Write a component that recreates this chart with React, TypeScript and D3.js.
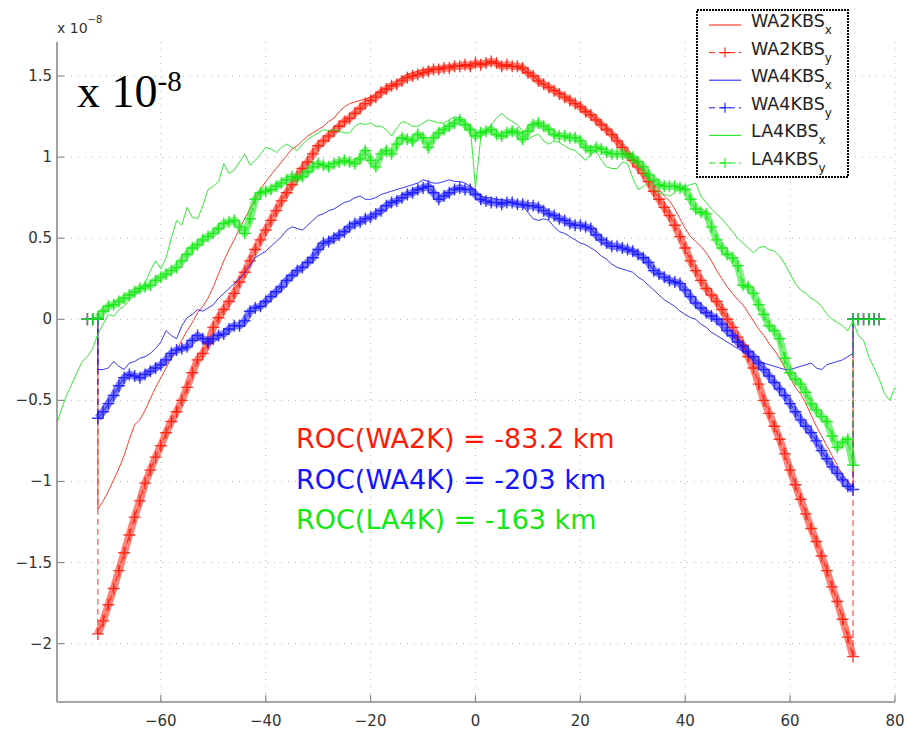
import React from "react";
import * as d3 from "d3";

// ---------- data (values in units of 1e-8) ----------
const MAIN_START = -72; // first x of the main samples (step 1)
const PAD_LEFT = [-74, -73, -72];
const PAD_RIGHT = [72, 73, 74, 75, 76, 77];
const LA4_X_START = -80;

const WA2KBS_X = [
  -1.17, -1.12, -1.06, -0.99, -0.92, -0.84, -0.74, -0.65, -0.62, -0.56,
  -0.49, -0.42, -0.36, -0.30, -0.24, -0.19, -0.13, -0.07, -0.02, 0.04,
  0.08, 0.13, 0.20, 0.28, 0.36, 0.43, 0.49, 0.56, 0.62, 0.68,
  0.74, 0.80, 0.85, 0.89, 0.93, 0.97, 1.01, 1.05, 1.07, 1.10,
  1.13, 1.15, 1.17, 1.19, 1.22, 1.24, 1.28, 1.31, 1.33, 1.34,
  1.35, 1.36, 1.37, 1.39, 1.41, 1.42, 1.44, 1.47, 1.49, 1.51,
  1.52, 1.53, 1.54, 1.54, 1.55, 1.55, 1.56, 1.56, 1.57, 1.56,
  1.57, 1.57, 1.58, 1.58, 1.57, 1.58, 1.58, 1.57, 1.56, 1.56,
  1.55, 1.54, 1.52, 1.50, 1.47, 1.45, 1.43, 1.41, 1.40, 1.38,
  1.35, 1.33, 1.31, 1.29, 1.26, 1.23, 1.21, 1.18, 1.15, 1.11,
  1.07, 1.03, 0.99, 0.95, 0.91, 0.87, 0.83, 0.80, 0.76, 0.73,
  0.68, 0.62, 0.56, 0.51, 0.48, 0.45, 0.41, 0.36, 0.30, 0.25,
  0.20, 0.16, 0.12, 0.09, 0.04, -0.01, -0.06, -0.10, -0.15, -0.19,
  -0.24, -0.30, -0.36, -0.42, -0.46, -0.52, -0.59, -0.66, -0.72, -0.78,
  -0.84, -0.90, -0.96, -1.00, -1.03,
];

const WA2KBS_Y = [
  -1.94, -1.86, -1.76, -1.66, -1.55, -1.44, -1.33, -1.22, -1.12, -1.01,
  -0.93, -0.85, -0.78, -0.70, -0.63, -0.57, -0.50, -0.42, -0.33, -0.25,
  -0.21, -0.15, -0.05, 0.01, 0.06, 0.11, 0.16, 0.23, 0.29, 0.36,
  0.43, 0.49, 0.55, 0.61, 0.67, 0.73, 0.78, 0.83, 0.88, 0.93,
  0.97, 1.02, 1.07, 1.10, 1.13, 1.16, 1.19, 1.22, 1.24, 1.27,
  1.30, 1.33, 1.35, 1.37, 1.40, 1.42, 1.44, 1.45, 1.47, 1.49,
  1.50, 1.51, 1.52, 1.53, 1.54, 1.54, 1.55, 1.55, 1.56, 1.56,
  1.57, 1.56, 1.58, 1.57, 1.58, 1.59, 1.58, 1.56, 1.57, 1.56,
  1.56, 1.55, 1.52, 1.50, 1.47, 1.45, 1.43, 1.41, 1.39, 1.37,
  1.35, 1.33, 1.31, 1.28, 1.26, 1.23, 1.20, 1.17, 1.14, 1.10,
  1.06, 1.02, 0.98, 0.94, 0.90, 0.85, 0.79, 0.74, 0.69, 0.64,
  0.58, 0.51, 0.44, 0.36, 0.30, 0.24, 0.19, 0.15, 0.11, 0.06,
  0.00, -0.05, -0.11, -0.16, -0.23, -0.30, -0.40, -0.50, -0.58, -0.66,
  -0.74, -0.83, -0.93, -1.02, -1.11, -1.20, -1.29, -1.37, -1.46, -1.55,
  -1.65, -1.74, -1.85, -1.96, -2.08,
];

const WA4KBS_X = [
  -0.31, -0.31, -0.30, -0.26, -0.29, -0.31, -0.27, -0.26, -0.24, -0.23,
  -0.21, -0.18, -0.14, -0.07, -0.10, -0.12, -0.04, 0.01, 0.03, 0.06,
  0.05, 0.07, 0.09, 0.13, 0.16, 0.19, 0.22, 0.25, 0.29, 0.33,
  0.38, 0.40, 0.42, 0.45, 0.48, 0.51, 0.55, 0.57, 0.56, 0.55,
  0.58, 0.61, 0.64, 0.65, 0.67, 0.68, 0.70, 0.72, 0.73, 0.75,
  0.76, 0.74, 0.74, 0.75, 0.77, 0.78, 0.79, 0.80, 0.81, 0.82,
  0.83, 0.84, 0.86, 0.85, 0.84, 0.84, 0.85, 0.86, 0.85, 0.85,
  0.84, 0.82, 0.78, 0.76, 0.75, 0.75, 0.74, 0.74, 0.73, 0.72,
  0.71, 0.70, 0.66, 0.62, 0.61, 0.62, 0.61, 0.57, 0.54, 0.53,
  0.51, 0.49, 0.47, 0.46, 0.44, 0.42, 0.39, 0.37, 0.34, 0.32,
  0.31, 0.30, 0.29, 0.26, 0.24, 0.21, 0.18, 0.15, 0.12, 0.10,
  0.08, 0.05, 0.03, 0.01, 0.00, -0.03, -0.05, -0.08, -0.10, -0.12,
  -0.14, -0.16, -0.18, -0.20, -0.22, -0.25, -0.26, -0.27, -0.28, -0.29,
  -0.30, -0.31, -0.31, -0.30, -0.29, -0.28, -0.27, -0.30, -0.31, -0.28,
  -0.27, -0.26, -0.25, -0.23, -0.21,
];

const WA4KBS_Y = [
  -0.61, -0.57, -0.52, -0.47, -0.41, -0.36, -0.34, -0.35, -0.36, -0.34,
  -0.32, -0.30, -0.28, -0.25, -0.21, -0.19, -0.18, -0.17, -0.13, -0.10,
  -0.12, -0.14, -0.12, -0.10, -0.09, -0.06, -0.04, -0.04, -0.01, 0.05,
  0.07, 0.08, 0.11, 0.14, 0.17, 0.20, 0.24, 0.27, 0.30, 0.32,
  0.35, 0.38, 0.43, 0.47, 0.48, 0.50, 0.52, 0.54, 0.57, 0.59,
  0.60, 0.62, 0.63, 0.65, 0.67, 0.70, 0.72, 0.73, 0.75, 0.77,
  0.78, 0.80, 0.81, 0.82, 0.78, 0.74, 0.76, 0.78, 0.80, 0.81,
  0.80, 0.80, 0.77, 0.74, 0.73, 0.72, 0.72, 0.71, 0.72, 0.72,
  0.71, 0.71, 0.70, 0.70, 0.69, 0.67, 0.65, 0.64, 0.62, 0.61,
  0.59, 0.58, 0.58, 0.57, 0.56, 0.52, 0.49, 0.47, 0.45, 0.45,
  0.44, 0.43, 0.42, 0.40, 0.38, 0.35, 0.30, 0.28, 0.26, 0.24,
  0.23, 0.22, 0.18, 0.14, 0.10, 0.07, 0.04, 0.02, 0.00, -0.03,
  -0.07, -0.10, -0.14, -0.17, -0.20, -0.23, -0.27, -0.31, -0.35, -0.39,
  -0.43, -0.47, -0.52, -0.57, -0.62, -0.66, -0.70, -0.75, -0.81, -0.86,
  -0.91, -0.95, -0.99, -1.03, -1.05,
];

const LA4KBS_X = [
  -0.66, -0.56, -0.47, -0.40, -0.33, -0.26, -0.23, -0.18, -0.09, -0.03,
  0.03, 0.02, 0.06, 0.08, 0.12, 0.15, 0.18, 0.22, 0.30, 0.36,
  0.31, 0.38, 0.50, 0.61, 0.58, 0.69, 0.63, 0.62, 0.70, 0.80,
  0.82, 0.85, 0.96, 0.90, 0.92, 0.97, 1.02, 0.95, 0.98, 1.02,
  1.06, 1.05, 1.03, 1.06, 1.08, 1.06, 1.04, 1.08, 1.11, 1.13,
  1.15, 1.17, 1.16, 1.17, 1.16, 1.15, 1.15, 1.19, 1.21, 1.20,
  1.21, 1.19, 1.19, 1.17, 1.13, 1.18, 1.22, 1.21, 1.19, 1.19,
  1.21, 1.23, 1.22, 1.21, 1.21, 1.23, 1.25, 1.24, 1.21, 1.19,
  0.81, 1.12, 1.16, 1.20, 1.24, 1.27, 1.24, 1.22, 1.20, 1.16,
  1.11, 1.13, 1.14, 1.10, 1.08, 1.10, 1.09, 1.07, 1.05, 1.04,
  1.01, 0.98, 1.02, 1.04, 0.98, 0.94, 0.93, 0.93, 0.97, 0.96,
  0.87, 0.80, 0.82, 0.84, 0.80, 0.78, 0.77, 0.76, 0.78, 0.81,
  0.82, 0.83, 0.84, 0.76, 0.72, 0.68, 0.65, 0.62, 0.58, 0.54,
  0.50, 0.47, 0.44, 0.41, 0.44, 0.45, 0.43, 0.42, 0.39, 0.34,
  0.28, 0.22, 0.18, 0.16, 0.13, 0.11, 0.08, 0.03, 0.00, -0.02,
  -0.04, -0.07, -0.01, -0.10, -0.13, -0.23, -0.30, -0.37, -0.46, -0.50,
  -0.42,
];

const LA4KBS_Y = [
  0.01, 0.05, 0.08, 0.09, 0.11, 0.13, 0.15, 0.17, 0.19, 0.20,
  0.21, 0.24, 0.26, 0.28, 0.30, 0.32, 0.36, 0.40, 0.44, 0.46,
  0.49, 0.51, 0.53, 0.56, 0.59, 0.60, 0.61, 0.57, 0.53, 0.62,
  0.74, 0.78, 0.79, 0.80, 0.82, 0.84, 0.86, 0.88, 0.87, 0.88,
  0.91, 0.94, 0.96, 0.95, 0.94, 0.96, 0.97, 0.98, 0.97, 0.96,
  0.99, 1.04, 0.98, 0.94, 1.02, 1.04, 1.02, 1.08, 1.12, 1.11,
  1.10, 1.14, 1.12, 1.06, 1.12, 1.15, 1.17, 1.19, 1.21, 1.23,
  1.20, 1.17, 1.13, 1.15, 1.16, 1.17, 1.14, 1.13, 1.15, 1.16,
  1.15, 1.11, 1.16, 1.20, 1.21, 1.19, 1.17, 1.14, 1.13, 1.13,
  1.12, 1.12, 1.10, 1.06, 1.04, 1.06, 1.05, 1.03, 1.02, 1.02,
  1.02, 1.01, 1.00, 0.97, 0.94, 0.89, 0.86, 0.83, 0.82, 0.82,
  0.82, 0.81, 0.80, 0.74, 0.68, 0.66, 0.65, 0.57, 0.49, 0.44,
  0.40, 0.38, 0.33, 0.21, 0.20, 0.16, 0.09, 0.03, -0.04, -0.07,
  -0.12, -0.24, -0.33, -0.37, -0.40, -0.45, -0.52, -0.56, -0.60, -0.63,
  -0.72, -0.79, -0.76, -0.74, -0.90,
];

const X_TICKS = [-60, -40, -20, 0, 20, 40, 60, 80];
const Y_TICKS = [-2, -1.5, -1, -0.5, 0, 0.5, 1, 1.5];

const LEGEND_NAMES = ["WA2KBS", "WA2KBS", "WA4KBS", "WA4KBS", "LA4KBS", "LA4KBS"];
const LEGEND_SUBS = ["x", "y", "x", "y", "x", "y"];

const ROC_LABELS = ["ROC(WA2K) = -83.2 km", "ROC(WA4K) = -203 km", "ROC(LA4K) = -163 km"];

// ---------- styles ----------
const RED = "#ff1a08";
const BLUE = "#1414ff";
const GREEN = "#12e812";
const SERIES_COLORS = [RED, RED, BLUE, BLUE, GREEN, GREEN];
const ROC_COLORS = [RED, BLUE, GREEN];
const FONT = "'DejaVu Sans', Verdana, sans-serif";

type Pt = [number, number];

function buildPoints(values: number[], start: number, padded: boolean): Pt[] {
  const pts: Pt[] = [];
  if (padded) PAD_LEFT.forEach((x) => pts.push([x, 0]));
  values.forEach((v, i) => pts.push([start + i, v]));
  if (padded) PAD_RIGHT.forEach((x) => pts.push([x, 0]));
  return pts;
}

export default function App() {
  const W = 909;
  const H = 730;
  const left = 57, right = 895, top = 42, bottom = 702;
  const x = d3.scaleLinear().domain([-79.8, 80]).range([left, right]);
  const y = d3.scaleLinear().domain([-2.36, 1.71]).range([bottom, top]);

  const line = d3
    .line<Pt>()
    .x((d) => x(d[0]))
    .y((d) => y(d[1]));

  const series = [
    { pts: buildPoints(WA2KBS_X, MAIN_START, true), markers: false },
    { pts: buildPoints(WA2KBS_Y, MAIN_START, true), markers: true },
    { pts: buildPoints(WA4KBS_X, MAIN_START, true), markers: false },
    { pts: buildPoints(WA4KBS_Y, MAIN_START, true), markers: true },
    { pts: buildPoints(LA4KBS_X, LA4_X_START, false), markers: false },
    { pts: buildPoints(LA4KBS_Y, MAIN_START, true), markers: true },
  ];

  const ms = 6;
  const markerPath = (pts: Pt[]) =>
    pts
      .map((p) => {
        const px = x(p[0]);
        const py = y(p[1]);
        return `M${px - ms},${py}H${px + ms}M${px},${py - ms}V${py + ms}`;
      })
      .join("");

  // main band only (the padded zero segments stay thin)
  const bandPts = (pts: Pt[]) => pts.slice(PAD_LEFT.length, pts.length - PAD_RIGHT.length);

  const fmt = d3.format("");
  const tickColor = "#8a8a8a";

  const legX = 697, legY = 10, legW = 151, legH = 167;
  const rowY0 = 25, rowStep = 27.6;

  return (
    <div style={{ position: "absolute", left: 0, top: 0 }}>
      <svg width={W} height={H} style={{ display: "block", background: "#fff" }}>
        <defs>
          <clipPath id="plotclip">
            <rect x={left} y={top} width={right - left + 1} height={bottom - top} />
          </clipPath>
        </defs>

        {/* grid */}
        <g stroke="#b4b4b4" strokeWidth={1} strokeDasharray="1,6">
          {X_TICKS.map((t) => (
            <line key={"gx" + t} x1={x(t)} x2={x(t)} y1={top} y2={bottom} />
          ))}
          {Y_TICKS.map((t) => (
            <line key={"gy" + t} x1={left} x2={right} y1={y(t)} y2={y(t)} />
          ))}
        </g>

        {/* data */}
        <g clipPath="url(#plotclip)">
          {series.map((s, i) => (
            <g key={"s" + i}>
              {s.markers && (
                <path
                  d={line(bandPts(s.pts)) || ""}
                  fill="none"
                  stroke={SERIES_COLORS[i]}
                  strokeWidth={7.5}
                  strokeLinejoin="round"
                  opacity={0.55}
                />
              )}
              <path
                d={line(s.pts) || ""}
                fill="none"
                stroke={SERIES_COLORS[i]}
                strokeWidth={1}
                strokeDasharray={s.markers ? "6,4" : undefined}
                opacity={s.markers ? 0.9 : 0.85}
              />
              {s.markers && (
                <path d={markerPath(s.pts)} fill="none" stroke={SERIES_COLORS[i]} strokeWidth={1.4} opacity={0.85} />
              )}
            </g>
          ))}
        </g>

        {/* axes */}
        <line x1={left} x2={left} y1={top} y2={bottom} stroke={tickColor} strokeWidth={1.6} />
        <line x1={left} x2={right} y1={bottom} y2={bottom} stroke={tickColor} strokeWidth={1.6} />
        {X_TICKS.map((t) => (
          <g key={"xt" + t}>
            <line x1={x(t)} x2={x(t)} y1={bottom} y2={bottom - 7} stroke={tickColor} strokeWidth={1.2} />
            <text x={x(t)} y={726} textAnchor="middle" fontFamily={FONT} fontSize={15} fill="#333">
              {fmt(t)}
            </text>
          </g>
        ))}
        {Y_TICKS.map((t) => (
          <g key={"yt" + t}>
            <line x1={left} x2={left + 7} y1={y(t)} y2={y(t)} stroke={tickColor} strokeWidth={1.2} />
            <text x={52} y={y(t) + 5} textAnchor="end" fontFamily={FONT} fontSize={15} fill="#333">
              {fmt(t)}
            </text>
          </g>
        ))}

        {/* exponent label above y axis */}
        <text x={57} y={33} fontFamily={FONT} fontSize={14} fill="#333">
          x 10
          <tspan fontSize={10} dy={-10}>{"\u22128"}</tspan>
        </text>

        {/* large serif exponent label */}
        <text x={77} y={107} fontFamily="'Liberation Serif', 'Times New Roman', serif" fontSize={46} fill="#000">
          x 10
          <tspan fontSize={29} dy={-16}>-8</tspan>
        </text>

        {/* ROC annotations */}
        {ROC_LABELS.map((s, i) => (
          <text key={"roc" + i} x={296} y={448 + i * 40.5} fontFamily={FONT} fontSize={27} fill={ROC_COLORS[i]}>
            {s}
          </text>
        ))}

        {/* legend */}
        <rect x={legX} y={legY} width={legW} height={legH} fill="#fff" stroke="#000" strokeWidth={2} strokeDasharray="2,1" />
        {LEGEND_NAMES.map((name, i) => {
          const ry = rowY0 + i * rowStep;
          const withMarker = i % 2 === 1;
          return (
            <g key={"leg" + i}>
              <line
                x1={709}
                x2={741}
                y1={ry}
                y2={ry}
                stroke={SERIES_COLORS[i]}
                strokeWidth={1}
                strokeDasharray={withMarker ? "6,4" : undefined}
              />
              {withMarker && (
                <path
                  d={`M${725 - 5},${ry}H${725 + 5}M725,${ry - 5}V${ry + 5}`}
                  stroke={SERIES_COLORS[i]}
                  strokeWidth={1.1}
                  fill="none"
                />
              )}
              <text x={751} y={ry + 2} fontFamily={FONT} fontSize={17.5} fill="#222">
                {name}
                <tspan fontSize={12} dy={7}>
                  {LEGEND_SUBS[i]}
                </tspan>
              </text>
            </g>
          );
        })}
      </svg>
    </div>
  );
}
